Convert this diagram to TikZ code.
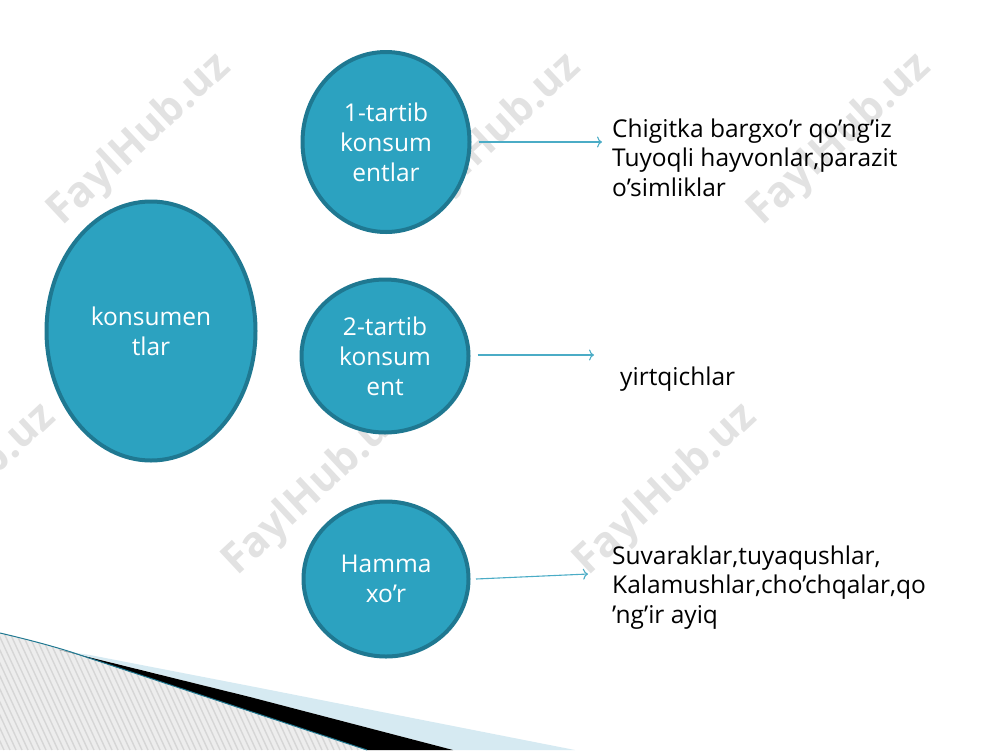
\documentclass[tikz,border=0pt]{standalone}
\usepackage{fontspec}
\setmainfont{Open Sans}
\usetikzlibrary{arrows.meta,shapes.geometric}
\definecolor{fillc}{RGB}{44,162,192}
\definecolor{edgec}{RGB}{31,120,145}
\definecolor{arrc}{RGB}{75,172,198}
\definecolor{lblue}{RGB}{214,234,242}
\definecolor{wmc}{RGB}{226,226,226}
\begin{document}
\begin{tikzpicture}[x=1pt,y=-1pt,
 bub/.style={ellipse, draw=edgec, line width=4pt, fill=fillc, text=white, align=center,
   font=\fontsize{24.5}{30}\selectfont, inner sep=0pt},
 lab/.style={anchor=base west, align=left, font=\fontsize{24.5}{29.5}\selectfont, inner sep=0pt},
 conn/.style={draw=arrc, line width=1.1pt, -{To[length=5pt,width=11pt]}},
 wm/.style={font=\bfseries\fontsize{42}{42}\selectfont, text=wmc, rotate=43}]
\useasboundingbox (0,0) rectangle (1000,750);
% watermarks
\node[wm] (w1) at (140,140) {FaylHub.uz};
\node[wm] (w2) at (490,140) {FaylHub.uz};
\node[wm] (w3) at (840,140) {FaylHub.uz};
\node[wm] (w4) at (-35,490) {FaylHub.uz};
\node[wm] (w5) at (315,490) {FaylHub.uz};
\node[wm] (w6) at (666,490) {FaylHub.uz};
% bottom-left decoration
\begin{scope}
\clip (0,633) .. controls (30,640) and (60,648) .. (80,655) -- (367,750) -- (0,750) -- cycle;
\fill[gray!14] (0,620) rectangle (400,750);
\foreach \i in {-80,-74,...,400} {
  \draw[gray!32, line width=1.4pt] (\i,620) -- (\i+60,750);
}
\end{scope}
\fill[lblue] (90,655) -- (250,686) -- (575,750) -- (453,750) -- (250,697) -- (70,652) -- cycle;
\fill[black] (60,650) -- (250,697) -- (453,750) -- (367,750) -- (80,655) -- cycle;
\draw[edgec, line width=1pt] (0,633) .. controls (30,640) and (60,648) .. (80,655) -- (367,750);
% bubbles
\node[bub, minimum width=209pt, minimum height=259pt] (k) at (151,331) {konsumen\\tlar};
\node[bub, minimum width=167pt, minimum height=180pt] (c1) at (386,142) {1-tartib\\konsum\\entlar};
\node[bub, minimum width=167pt, minimum height=153pt] (c2) at (385,356) {2-tartib\\konsum\\ent};
\node[bub, minimum width=165pt, minimum height=155pt] (c3) at (386,579) {Hamma\\xo’r};
% labels (base anchor = baseline of last line)
\node[lab] (l1) at (612,196) {Chigitka bargxo’r qo’ng’iz\\Tuyoqli hayvonlar,parazit\\o’simliklar};
\node[lab] (l2) at (620,385) {yirtqichlar};
\node[lab] (l3) at (612,623) {Suvaraklar,tuyaqushlar,\\Kalamushlar,cho’chqalar,qo\\’ng’ir ayiq};
% arrow ends
\coordinate (e1) at (602,142);
\coordinate (e2) at (594,355);
\coordinate (e3) at (588,574);
\coordinate (s3) at (476,579);
\draw[conn, shorten <=7pt] (c1.east) -- (e1);
\draw[conn, shorten <=7pt] (c2.east |- e2) -- (e2);
\draw[conn] (s3) -- (e3);
\end{tikzpicture}
\end{document}
